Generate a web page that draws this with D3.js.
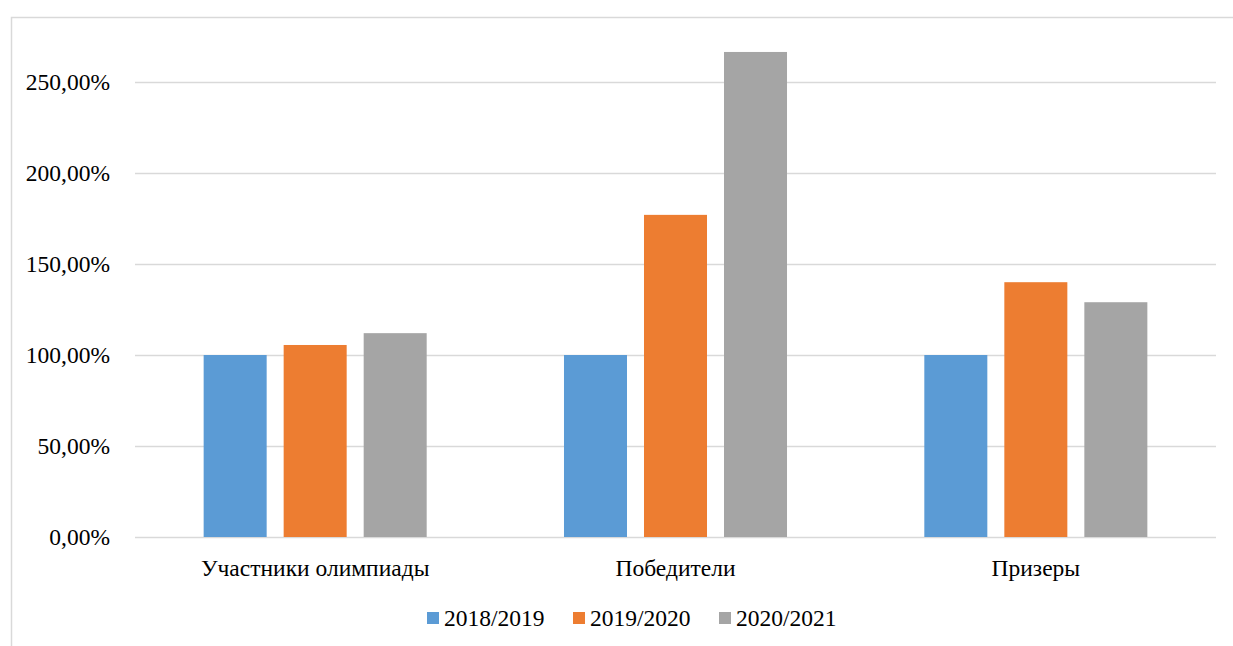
<!DOCTYPE html>
<html>
<head>
<meta charset="utf-8">
<script src="https://cdn.jsdelivr.net/npm/d3@7"></script>
<style>
  html, body { margin: 0; padding: 0; background: #fff; }
  svg { display: block; }
</style>
</head>
<body>
<svg id="chart" width="1233" height="646"></svg>
<script>
// Olympiad results relative to 2018/2019 (percent)
const categories = ["Участники олимпиады", "Победители", "Призеры"];
const seriesNames = ["2018/2019", "2019/2020", "2020/2021"];
const values2018 = [100, 100, 100];
const values2019 = [105.5, 177, 140];
const values2020 = [112, 266.5, 129];
const yTicks = [0, 50, 100, 150, 200, 250];
const colors = ["#5B9BD5", "#ED7D31", "#A5A5A5"];

const seriesValues = [values2018, values2019, values2020];

const svg = d3.select("#chart");
const W = 1233, H = 646;
const plot = { left: 135, right: 1216, top: 37, bottom: 537 };
const fontSize = 23.5;
const fontFamily = "Liberation Serif, Tinos, DejaVu Serif, serif";

// Outer chart frame
svg.append("rect")
  .attr("x", 11.5).attr("y", 17.5)
  .attr("width", W + 10).attr("height", H + 10)
  .attr("fill", "none").attr("stroke", "#D9D9D9").attr("stroke-width", 1.5);

const y = d3.scaleLinear().domain([0, 275]).range([plot.bottom, plot.bottom - 275 * (455 / 250)]);

const x0 = d3.scaleBand().domain(categories).range([plot.left, plot.right]).padding(0);
const x1 = d3.scaleBand().domain(seriesNames).range([0, x0.bandwidth()])
  .paddingInner(0.2125).paddingOuter(0.858);

const fmt = v => d3.format(".2f")(v).replace(".", ",") + "%";

// Gridlines
svg.append("g").selectAll("line").data(yTicks).join("line")
  .attr("x1", plot.left).attr("x2", plot.right)
  .attr("y1", d => Math.round(y(d)) + 0.5).attr("y2", d => Math.round(y(d)) + 0.5)
  .attr("stroke", "#D9D9D9").attr("stroke-width", 1.5);

// Y axis labels
const yAxis = d3.axisLeft(y).tickValues(yTicks).tickFormat(fmt).tickSize(0).tickPadding(25);
const gy = svg.append("g").attr("transform", `translate(${plot.left},0)`).call(yAxis)
  .attr("font-family", fontFamily).attr("font-size", fontSize);
gy.select(".domain").remove();
gy.selectAll("text").attr("fill", "#000");

// Bars
const groups = svg.append("g").selectAll("g").data(categories).join("g")
  .attr("transform", d => `translate(${x0(d)},0)`);
groups.selectAll("rect")
  .data((c, i) => seriesNames.map((s, k) => ({ s, k, v: seriesValues[k][i] })))
  .join("rect")
  .attr("x", d => x1(d.s))
  .attr("width", x1.bandwidth())
  .attr("y", d => y(d.v))
  .attr("height", d => y(0) - y(d.v))
  .attr("fill", d => colors[d.k]);

// Category labels
const xAxis = d3.axisBottom(x0).tickSize(0).tickPadding(22);
const gx = svg.append("g").attr("transform", `translate(0,${plot.bottom})`).call(xAxis)
  .attr("font-family", fontFamily).attr("font-size", fontSize);
gx.select(".domain").remove();
gx.selectAll("text").attr("fill", "#000");

// Legend
const legendX = [427, 573, 719];
const legend = svg.append("g").attr("font-family", fontFamily).attr("font-size", fontSize)
  .selectAll("g").data(seriesNames).join("g")
  .attr("transform", (d, i) => `translate(${legendX[i]},612)`);
legend.append("rect").attr("width", 12).attr("height", 12).attr("fill", (d, i) => colors[i]);
legend.append("text").attr("x", 17).attr("y", 14).attr("fill", "#000").text(d => d);
</script>
</body>
</html>
